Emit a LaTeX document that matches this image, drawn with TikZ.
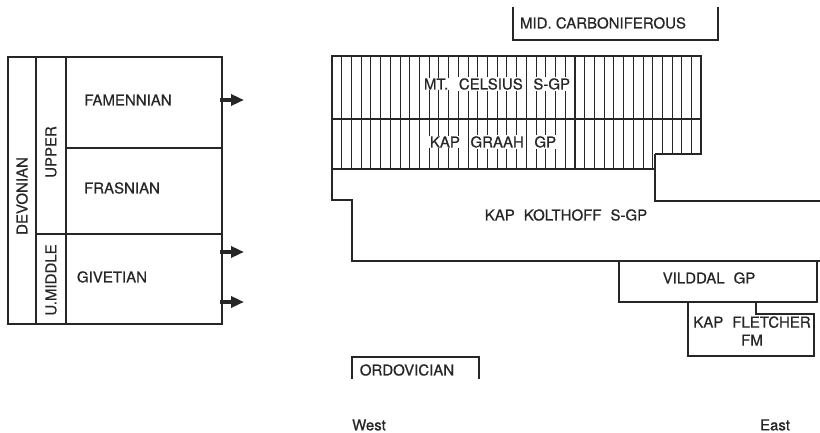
\documentclass[tikz,border=0pt]{standalone}
\usepackage{fontspec}
\setmainfont{TeX Gyre Heros}
\newfontfamily\labelfont{TeX Gyre Heros}[FakeBold=0.6]
\usetikzlibrary{arrows.meta}
\definecolor{ink}{HTML}{262626}
\newcommand{\wb}[1]{{\setlength{\fboxsep}{0.8pt}\colorbox{white}{#1}}}
\newcommand{\wgap}{\hspace{0.6em}}
\tikzset{
  txt/.style={font=\labelfont\fontsize{15}{18}\selectfont, text=ink, inner sep=0pt},
  frame/.style={draw=ink, line width=1.25pt, line join=miter},
  hatch/.style={draw=ink, line width=1.05pt},
  bigarrow/.style={draw=ink, line width=3.4pt, -{Triangle[length=13pt,width=11pt]}}
}
\begin{document}
\begin{tikzpicture}[x=1pt,y=-1pt]
\useasboundingbox (0,0) rectangle (820,433);

% ---------- left stratigraphic table ----------
\draw[frame] (8,57) rectangle (222,324);
\draw[frame] (36,57) -- (36,324);
\draw[frame] (66,57) -- (66,324);
\draw[frame] (66,148) -- (222,148);
\draw[frame] (36,234) -- (222,234);

\node[txt] (fam) at (128,100) {FAMENNIAN};
\node[txt] (fra) at (122,188) {FRASNIAN};
\node[txt] (giv) at (112,277) {GIVETIAN};
\node[txt, rotate=90] (dev) at (22,196) {DEVONIAN};
\node[txt, rotate=90] (upp) at (51,152) {UPPER};
\node[txt, rotate=90] (umid) at (51,280) {U.MIDDLE};

\coordinate (a1s) at (220,100); \coordinate (a1e) at (244,100);
\coordinate (a2s) at (220,252); \coordinate (a2e) at (244,252);
\coordinate (a3s) at (220,302); \coordinate (a3e) at (244,302);
\draw[bigarrow] (a1s) -- (a1e);
\draw[bigarrow] (a2s) -- (a2e);
\draw[bigarrow] (a3s) -- (a3e);

% ---------- Mid Carboniferous bracket ----------
\draw[frame] (513,7) -- (513,40) -- (718,40) -- (718,7);
\node[txt] (carb) at (603,23) {MID. CARBONIFEROUS};

% ---------- hatched units ----------
\begin{scope}
  \clip (332,56) -- (701,56) -- (701,154) -- (655,154) -- (655,169) -- (332,169) -- cycle;
  \foreach \k in {1,...,38} {
    \draw[hatch] ({332+9.72*\k},50) -- ({332+9.72*\k},175);
  }
\end{scope}
\draw[frame] (332,169) -- (332,56) -- (701,56) -- (701,154) -- (655,154);
\draw[frame] (332,119) -- (701,119);
\draw[frame] (332,169) -- (655,169);

\node[txt] (cel) at (497,84) {\wb{MT.}\wgap\wb{CELSIUS}\wgap\wb{S-GP}};
\node[txt] (gra) at (493,142) {\wb{KAP}\wgap\wb{GRAAH}\wgap\wb{GP}};

% ---------- Kap Kolthoff ----------
\draw[frame] (332,169) -- (332,200) -- (352,200) -- (352,261) -- (820,261);
\draw[frame] (655,154) -- (655,201) -- (820,201);
\node[txt] (kol) at (566,215) {KAP\wgap KOLTHOFF\wgap S-GP};

% ---------- Vilddal ----------
\draw[frame] (619,261) rectangle (817,302);
\node[txt] (vil) at (709,278) {VILDDAL\wgap GP};

% ---------- Kap Fletcher ----------
\draw[frame] (688,302) -- (688,356) -- (814,356) -- (814,314) -- (756,314) -- (756,302);
\node[txt, align=center] (fle) at (752,331) {KAP\wgap FLETCHER\\FM};

% ---------- Ordovician bracket ----------
\draw[frame] (352,379) -- (352,357) -- (479,357) -- (479,379);
\node[txt] (ord) at (407,370) {ORDOVICIAN};

% ---------- directions ----------
\node[txt] (west) at (369,425) {West};
\node[txt] (east) at (775,425) {East};
\end{tikzpicture}
\end{document}
